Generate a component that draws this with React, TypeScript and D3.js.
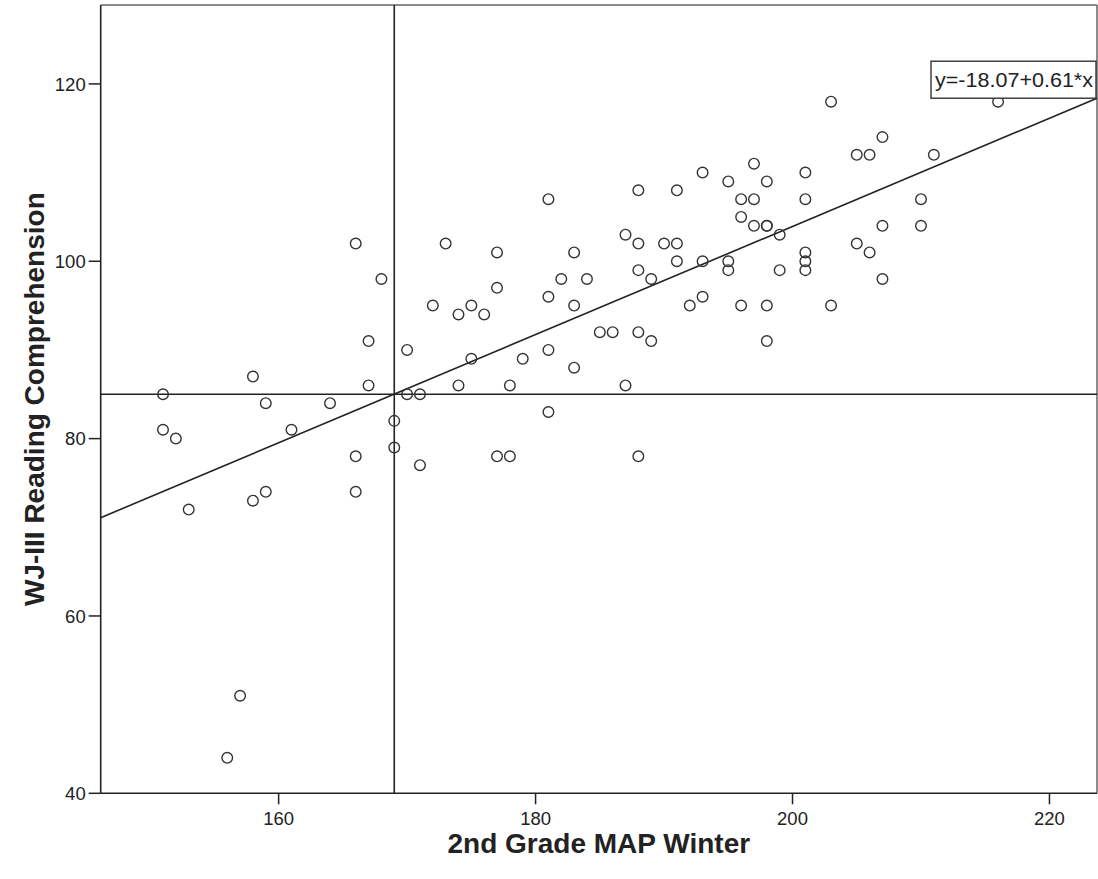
import React from "react";
import * as d3 from "d3";

// 2nd Grade MAP Winter (x) and WJ-III Reading Comprehension (y)
const mapWinter = [
  151, 151, 152, 153, 158, 159, 158, 159, 161, 164, 166, 168, 167, 167, 166, 166, 169, 169, 170, 170, 171, 171, 157, 156,
  181, 173, 177, 183, 177, 182, 184, 181, 183, 172, 174, 175, 176, 175, 179, 181, 183, 185, 186, 188, 189, 174, 178, 187,
  181, 177, 178, 188, 188, 191, 193, 195, 196, 196, 187, 188, 190, 191, 188, 189, 191, 193, 195, 195, 192, 193, 196,
  203, 216, 207, 205, 206, 211, 197, 198, 201, 197, 201, 210, 197, 198, 198, 199, 207, 210, 205, 206, 201, 201, 201, 199,
  207, 198, 203, 198,
];
const wjReading = [
  85, 81, 80, 72, 87, 84, 73, 74, 81, 84, 102, 98, 91, 86, 78, 74, 82, 79, 90, 85, 85, 77, 51, 44,
  107, 102, 101, 101, 97, 98, 98, 96, 95, 95, 94, 95, 94, 89, 89, 90, 88, 92, 92, 92, 91, 86, 86, 86,
  83, 78, 78, 78, 108, 108, 110, 109, 107, 105, 103, 102, 102, 102, 99, 98, 100, 100, 100, 99, 95, 96, 95,
  118, 118, 114, 112, 112, 112, 111, 109, 110, 107, 107, 107, 104, 104, 104, 103, 104, 104, 102, 101, 101, 100, 99, 99,
  98, 95, 95, 91,
];

const xTicks = [160, 180, 200, 220];
const yTicks = [40, 60, 80, 100, 120];
const refLineX = [169];
const refLineY = [85];
const fitIntercept = -18.07;
const fitSlope = 0.61;
const fitLabel = "y=-18.07+0.61*x";

const xDomain = [146.15, 223.7];
const yDomain = [40, 128.9];

const W = 1098;
const H = 879;
const FONT = "'Liberation Sans', Arial, sans-serif";

export default function App() {
  const x = d3.scaleLinear().domain(xDomain).range([100.7, 1097]);
  const y = d3.scaleLinear().domain(yDomain).range([793.3, 5]);
  const [x0, x1] = x.range();
  const [yb, yt] = y.range();

  const pts = mapWinter.map((v, i) => [v, wjReading[i]] as [number, number]);
  const fitPts: [number, number][] = xDomain.map((v) => [v, fitIntercept + fitSlope * v]);
  const line = d3
    .line<[number, number]>()
    .x((d) => x(d[0]))
    .y((d) => y(d[1]));

  const endX = x(xDomain[1]);
  const endY = y(fitIntercept + fitSlope * xDomain[1]);
  const boxW = 166;
  const boxH = 37;

  return (
    <svg
      width={W}
      height={H}
      style={{ position: "absolute", left: 0, top: 0, background: "#fff" }}
      fontFamily={FONT}
    >
      <rect x={0} y={0} width={W} height={H} fill="#fff" />
      {/* frame */}
      <line x1={x0} y1={yt} x2={x1} y2={yt} stroke="#666" strokeWidth={1.5} />
      <line x1={x1} y1={yt} x2={x1} y2={yb} stroke="#666" strokeWidth={1.5} />
      <line x1={x0} y1={yt} x2={x0} y2={yb} stroke="#222" strokeWidth={1.6} />
      <line x1={x0} y1={yb} x2={x1} y2={yb} stroke="#222" strokeWidth={1.6} />

      {/* ticks */}
      {xTicks.map((t) => (
        <g key={"xt" + t}>
          <line x1={x(t)} x2={x(t)} y1={yb} y2={yb + 11} stroke="#222" strokeWidth={1.5} />
          <text x={x(t)} y={yb + 32} textAnchor="middle" fontSize={18.5} fill="#222">
            {t}
          </text>
        </g>
      ))}
      {yTicks.map((t) => (
        <g key={"yt" + t}>
          <line x1={x0 - 12} x2={x0} y1={y(t)} y2={y(t)} stroke="#222" strokeWidth={1.5} />
          <text x={x0 - 15} y={y(t)} dy="0.36em" textAnchor="end" fontSize={18.5} fill="#222">
            {t}
          </text>
        </g>
      ))}

      {/* reference lines */}
      {refLineX.map((v) => (
        <line key={"rx" + v} x1={x(v)} x2={x(v)} y1={yt} y2={yb} stroke="#222" strokeWidth={1.6} />
      ))}
      {refLineY.map((v) => (
        <line key={"ry" + v} x1={x0} x2={x1} y1={y(v)} y2={y(v)} stroke="#222" strokeWidth={1.6} />
      ))}

      {/* fit line */}
      <path d={line(fitPts) || ""} fill="none" stroke="#222" strokeWidth={1.6} />

      {/* points */}
      {pts.map((d, i) => (
        <circle key={i} cx={x(d[0])} cy={y(d[1])} r={5.3} fill="none" stroke="#333" strokeWidth={1.4} />
      ))}

      {/* fit label */}
      <rect x={endX - boxW} y={endY - boxH} width={boxW - 1} height={boxH} fill="#fff" stroke="#333" strokeWidth={1.4} />
      <text
        x={endX - boxW / 2}
        y={endY - boxH / 2}
        dy="0.36em"
        textAnchor="middle"
        fontSize={20}
        fill="#222"
        textLength={158}
        lengthAdjust="spacingAndGlyphs"
      >
        {fitLabel}
      </text>

      {/* axis titles */}
      <text x={(x0 + x1) / 2} y={853} textAnchor="middle" fontSize={28} fontWeight="bold" fill="#222">
        2nd Grade MAP Winter
      </text>
      <text
        transform={`translate(44, ${(yt + yb) / 2}) rotate(-90)`}
        textAnchor="middle"
        fontSize={28}
        fontWeight="bold"
        fill="#222"
      >
        WJ-III Reading Comprehension
      </text>
    </svg>
  );
}
